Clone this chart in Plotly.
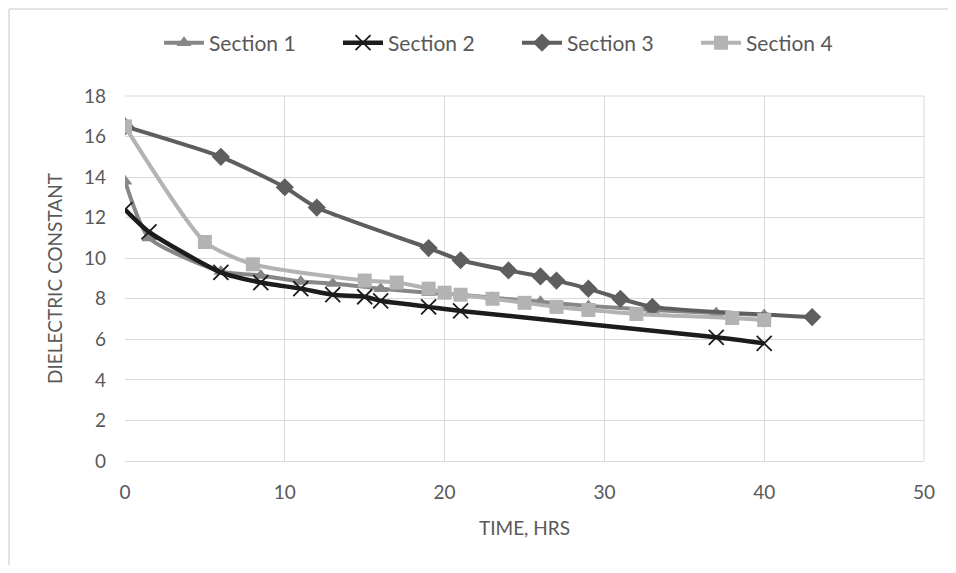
import plotly.graph_objects as go

s1_x = [0, 1.5, 6, 8.5, 11, 13, 16, 19, 21, 23, 26, 29, 33, 37, 40]
s1_y = [13.8, 11.0, 9.35, 9.15, 8.85, 8.75, 8.5, 8.3, 8.2, 8.05, 7.85, 7.65, 7.45, 7.3, 7.2]

s2_x = [0, 1.5, 6, 8.5, 11, 13, 15, 16, 19, 21, 37, 40]
s2_y = [12.4, 11.3, 9.3, 8.8, 8.5, 8.2, 8.1, 7.9, 7.6, 7.4, 6.1, 5.8]

s3_x = [0, 6, 10, 12, 19, 21, 24, 26, 27, 29, 31, 33, 43]
s3_y = [16.5, 15.0, 13.5, 12.5, 10.5, 9.9, 9.4, 9.1, 8.9, 8.5, 8.0, 7.6, 7.1]

s4_x = [0, 5, 8, 15, 17, 19, 20, 21, 23, 25, 27, 29, 32, 38, 40]
s4_y = [16.5, 10.8, 9.7, 8.9, 8.8, 8.5, 8.3, 8.2, 8.0, 7.8, 7.6, 7.45, 7.25, 7.05, 6.95]

names = ["Section 1", "Section 2", "Section 3", "Section 4"]

FONT = "Lato"
TXT = "#595959"

fig = go.Figure()
fig.add_trace(go.Scatter(x=s1_x, y=s1_y, name=names[0], mode="lines+markers",
                         line=dict(color="#878787", width=4, shape="spline", smoothing=0.6),
                         marker=dict(symbol="triangle-up", size=13, color="#878787")))
fig.add_trace(go.Scatter(x=s2_x, y=s2_y, name=names[1], mode="lines+markers",
                         line=dict(color="#1c1c1c", width=4.5, shape="spline", smoothing=0.6),
                         marker=dict(symbol="x-thin", size=15, color="#1c1c1c",
                                     line=dict(color="#1c1c1c", width=1.8))))
fig.add_trace(go.Scatter(x=s3_x, y=s3_y, name=names[2], mode="lines+markers",
                         line=dict(color="#5e5e5e", width=4, shape="spline", smoothing=0.6),
                         marker=dict(symbol="diamond", size=14, color="#5e5e5e")))
fig.add_trace(go.Scatter(x=s4_x, y=s4_y, name=names[3], mode="lines+markers",
                         line=dict(color="#b3b3b3", width=4, shape="spline", smoothing=0.6),
                         marker=dict(symbol="square", size=14, color="#b3b3b3")))

# page body has an 8px margin, so figure coords = screen coords - 8
OFF = 8
W, H = 956 - 2 * OFF, 573 - 2 * OFF
pl, pr, pt, pb = 125 - OFF, 924 - OFF, 96 - OFF, 461 - OFF
pw, ph = pr - pl, pb - pt

fig.update_layout(
    width=W, height=H,
    margin=dict(l=pl, r=W - pr, t=pt, b=H - pb),
    paper_bgcolor="white", plot_bgcolor="white",
    font=dict(family=FONT, size=19, color=TXT),
    legend=dict(orientation="h", x=(151 - pl) / pw, xanchor="left",
                y=1 + (pt - (43 - OFF)) / ph, yanchor="middle",
                font=dict(family=FONT, size=21, color=TXT), itemwidth=40,
                entrywidth=124, traceorder="normal"),
    xaxis=dict(range=[0, 50], tick0=0, dtick=10, showgrid=True, gridcolor="#d9d9d9", gridwidth=1,
               zeroline=False, showline=True, linecolor="#d9d9d9", linewidth=1, ticks="",
               ticklabelstandoff=14,
               title=dict(text="TIME, HRS", font=dict(family=FONT, size=19, color=TXT), standoff=19),
               tickfont=dict(family=FONT, size=19, color=TXT)),
    yaxis=dict(range=[0, 18], tick0=0, dtick=2, showgrid=True, gridcolor="#d9d9d9", gridwidth=1,
               zeroline=False, showline=False, ticks="",
               ticklabelstandoff=18,
               title=dict(text="DIELECTRIC CONSTANT", font=dict(family=FONT, size=19, color=TXT), standoff=16),
               tickfont=dict(family=FONT, size=19, color=TXT)),
    shapes=[
        dict(type="line", xref="paper", yref="paper", x0=(1 - pl) / pw, x1=(W + 10 - pl) / pw,
             y0=(pb - 1) / ph, y1=(pb - 1) / ph, line=dict(color="#d9d9d9", width=1.5)),
        dict(type="line", xref="paper", yref="paper", x0=(1 - pl) / pw, x1=(1 - pl) / pw,
             y0=(pb - 1) / ph, y1=(pb - H - 10) / ph, line=dict(color="#d9d9d9", width=1.5)),
        dict(type="line", xref="paper", yref="paper", x0=1, x1=1, y0=0, y1=1,
             line=dict(color="#d9d9d9", width=1)),
        dict(type="line", xref="paper", yref="paper", x0=0, x1=1, y0=1, y1=1,
             line=dict(color="#d9d9d9", width=1)),
    ],
)

fig.write_html("out.html")
